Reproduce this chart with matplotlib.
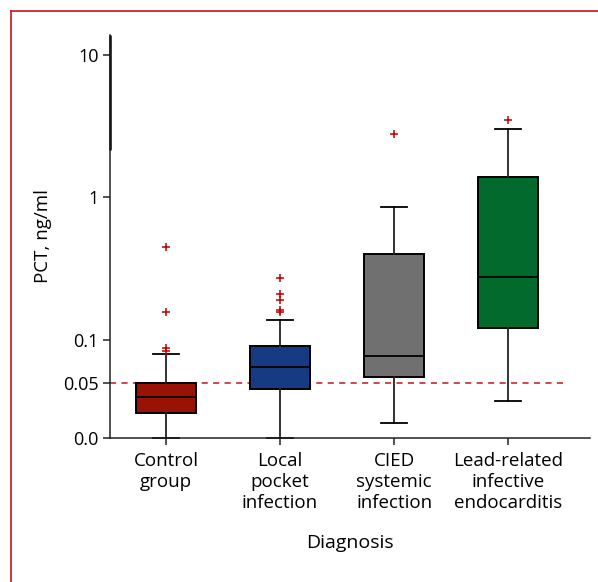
import matplotlib.pyplot as plt
from matplotlib.lines import Line2D

# values (PCT, ng/ml)
groups = ["Control\ngroup", "Local\npocket\ninfection", "CIED\nsystemic\ninfection",
          "Lead-related\ninfective\nendocarditis"]
q1 = [0.0307, 0.0448, 0.055, 0.121]
med = [0.0398, 0.064, 0.0769, 0.275]
q3 = [0.05, 0.0898, 0.401, 1.39]
whislo = [0.0204, 0.0204, 0.0259, 0.0373]
whishi = [0.0798, 0.1366, 0.848, 3.03]
fliers = [[0.446, 0.156, 0.087, 0.083],
          [0.269, 0.21, 0.19, 0.162, 0.156],
          [2.78],
          [3.46]]
colors = ["#9a1206", "#173b82", "#707070", "#036a2e"]
cutoff = 0.05
yticks = [0.0204, 0.05, 0.1, 1, 10]
yticklabels = ["0.0", "0.05", "0.1", "1", "10"]

plt.rcParams['font.family'] = ['Open Sans', 'DejaVu Sans']

fig = plt.figure(figsize=(5.98, 5.82), dpi=100)
ax = fig.add_axes([0.184, 0.2474, 0.803, 0.6926])

stats = []
for i in range(len(groups)):
    stats.append(dict(q1=q1[i], med=med[i], q3=q3[i], whislo=whislo[i],
                      whishi=whishi[i], fliers=fliers[i]))

pos = [1, 2, 3, 4]
bp = ax.bxp(stats, positions=pos, widths=0.52, patch_artist=True, capwidths=0.23,
            boxprops=dict(edgecolor="black", linewidth=1.4),
            medianprops=dict(color="black", linewidth=1.3),
            whiskerprops=dict(color="#222222", linewidth=1.3),
            capprops=dict(color="black", linewidth=1.3),
            flierprops=dict(marker="+", markeredgecolor="#c00000", markersize=6,
                            markeredgewidth=1.1, linestyle="none"))
for patch, c in zip(bp["boxes"], colors):
    patch.set_facecolor(c)
for cap in bp["caps"]:
    cap.set_clip_on(False)

ax.plot([0.509, 4.48], [cutoff, cutoff], linestyle=(0, (4, 3.5)), color="#c0171e",
        linewidth=1.1, zorder=0.5)

ax.set_yscale("log")
ax.set_ylim(0.0204, 13.8)
ax.set_xlim(0.509, 4.72)
ax.set_yticks(yticks)
ax.set_yticklabels(yticklabels)
ax.yaxis.set_minor_locator(plt.NullLocator())
ax.set_xticks(pos)
ax.set_xticklabels(groups, linespacing=1.22)
ax.tick_params(axis="both", length=5, width=1.1, color="#222222")
ax.tick_params(axis="y", labelsize=13, pad=3)
ax.tick_params(axis="x", labelsize=13.5, pad=5)

for s in ["top", "right"]:
    ax.spines[s].set_visible(False)
for s in ["left", "bottom"]:
    ax.spines[s].set_linewidth(1.1)
    ax.spines[s].set_color("#222222")

# heavier upper part of the y axis, as in the reference
ax.plot([0.509, 0.509], [2.15, 13.8], color="black", linewidth=1.8, clip_on=False,
        solid_capstyle="butt")

ax.set_ylabel("PCT, ng/ml", fontsize=13.5, labelpad=8)
ax.set_xlabel("Diagnosis", fontsize=14, labelpad=16)

# red frame (top and left edges)
fig.add_artist(Line2D([11 / 598, 1], [1 - 11 / 582, 1 - 11 / 582], color="#c8282a",
                      linewidth=1.3, transform=fig.transFigure))
fig.add_artist(Line2D([11 / 598, 11 / 598], [0, 1 - 11 / 582], color="#c8282a",
                      linewidth=1.3, transform=fig.transFigure))

fig.savefig("out.png", dpi=100)
